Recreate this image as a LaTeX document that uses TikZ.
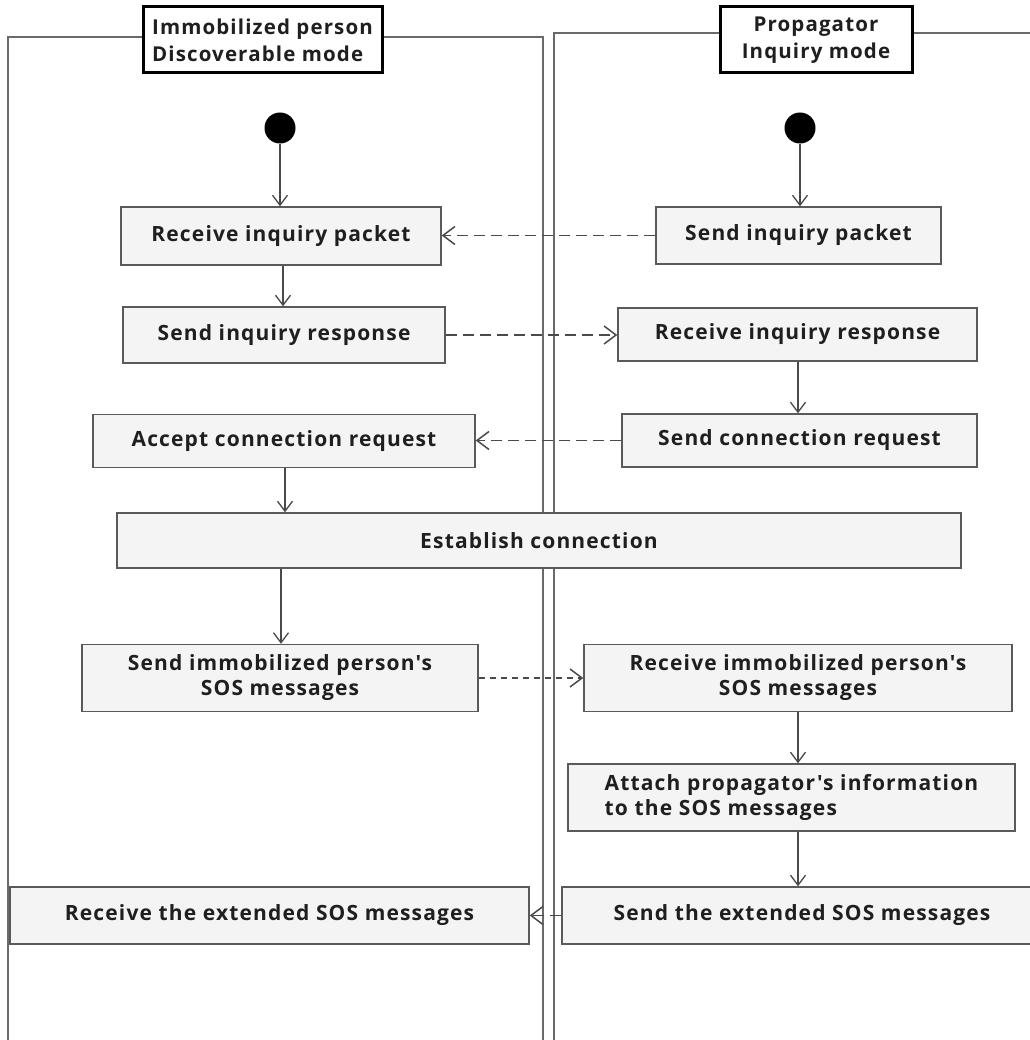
\documentclass[tikz,border=0pt]{standalone}
\usepackage{fontspec}
\setmainfont{Open Sans}[BoldFont={Open Sans Bold}]
\newfontfamily\labelfont{Open Sans Bold}[LetterSpace=5.5]
\usetikzlibrary{arrows.meta}
\definecolor{boxfill}{HTML}{F4F4F4}
\definecolor{boxline}{HTML}{5A5A5A}
\definecolor{laneline}{HTML}{6A6A6A}
\definecolor{flowline}{HTML}{4A4A4A}
\begin{document}
\begin{tikzpicture}[x=1pt,y=-1pt,
  action/.style={draw=boxline, line width=1.4pt, fill=boxfill, rectangle,
    font=\labelfont\fontsize{21}{25}\selectfont, text=black!88, inner sep=0pt},
  lanehead/.style={draw=black, line width=3pt, fill=white, rectangle,
    font=\labelfont\fontsize{20.5}{27}\selectfont, text=black!88, inner sep=0pt},
  startdot/.style={circle, fill=black, minimum size=31pt, inner sep=0pt},
  flow/.style={draw=flowline, line width=1.3pt,
    -{Straight Barb[length=10pt,width=15pt,line width=1.3pt]}},
  msg/.style={draw=flowline, line width=1.6pt, dash pattern=on 11pt off 6pt,
    -{Straight Barb[length=12pt,width=18pt,line width=1.5pt]}},
  msgfine/.style={msg, dash pattern=on 6pt off 5pt},
  lane/.style={draw=laneline, line width=1.3pt}
]
\useasboundingbox (0,0) rectangle (1029,1040);
\fill[white] (0,0) rectangle (1029,1040);

% swimlane frames
\draw[lane] (8,1042) -- (8,37) -- (543,37) -- (543,1042);
\draw[lane] (554,1042) -- (554,33) -- (1032,33);

% lane headers
\node[lanehead, minimum width=239pt, minimum height=66pt, align=left] (hleft) at (262.5,40)
  {Immobilized person\\Discoverable mode};
\node[lanehead, minimum width=192pt, minimum height=66pt, align=center] (hright) at (816,40)
  {Propagator\\Inquiry mode};

% start points
\node[startdot] (s1) at (280,128) {};
\node[startdot] (s2) at (800,128) {};

% actions: immobilized person
\node[action, minimum width=320pt, minimum height=58pt] (rip) at (281,236) {Receive inquiry packet};
\node[action, minimum width=322pt, minimum height=56pt] (sir) at (284,335) {Send inquiry response};
\node[action, minimum width=382pt, minimum height=53pt] (acr) at (284,441) {Accept connection request};
\node[action, minimum width=396pt, minimum height=67pt, align=center] (ssos) at (280,678)
  {Send immobilized person's\\SOS messages};
\node[action, minimum width=519pt, minimum height=57pt] (rext) at (269.5,915.5) {Receive the extended SOS messages};

% actions: propagator
\node[action, minimum width=285pt, minimum height=57pt] (sip) at (798.5,235.5) {Send inquiry packet};
\node[action, minimum width=359pt, minimum height=53pt] (rir) at (797.5,334.5) {Receive inquiry response};
\node[action, minimum width=355pt, minimum height=53pt] (scr) at (799.5,440.5) {Send connection request};
\node[action, minimum width=428pt, minimum height=67pt, align=center] (rsos) at (798,678)
  {Receive immobilized person's\\SOS messages};
\node[action, minimum width=447pt, minimum height=67pt, align=left] (att) at (791.5,797.5)
  {Attach propagator's information\\to the SOS messages};
\node[action, minimum width=480pt, minimum height=57pt] (sext) at (802,915.5) {Send the extended SOS messages};

% shared action
\node[action, minimum width=844pt, minimum height=55pt] (est) at (539,540.5) {Establish connection};

% control flow
\draw[flow] (s1) -- (rip.north -| s1);
\draw[flow] (rip.south -| 283,0) -- (sir.north -| 283,0);
\draw[flow] (acr.south -| 285,0) -- (est.north -| 285,0);
\draw[flow] (est.south -| 281,0) -- (ssos.north -| 281,0);
\draw[flow] (s2) -- (sip.north -| s2);
\draw[flow] (rir.south -| 798,0) -- (scr.north -| 798,0);
\draw[flow] (rsos.south -| 798,0) -- (att.north -| 798,0);
\draw[flow] (att.south -| 798,0) -- (sext.north -| 798,0);

% messages between lanes
\draw[msg] (sip.west) -- (rip.east |- sip.west);
\draw[msg] (sir.east) -- (rir.west |- sir.east);
\draw[msg] (scr.west) -- (acr.east |- scr.west);
\draw[msgfine] (ssos.east) -- (rsos.west |- ssos.east);
\draw[msg] (sext.west) -- (rext.east |- sext.west);
\end{tikzpicture}
\end{document}
